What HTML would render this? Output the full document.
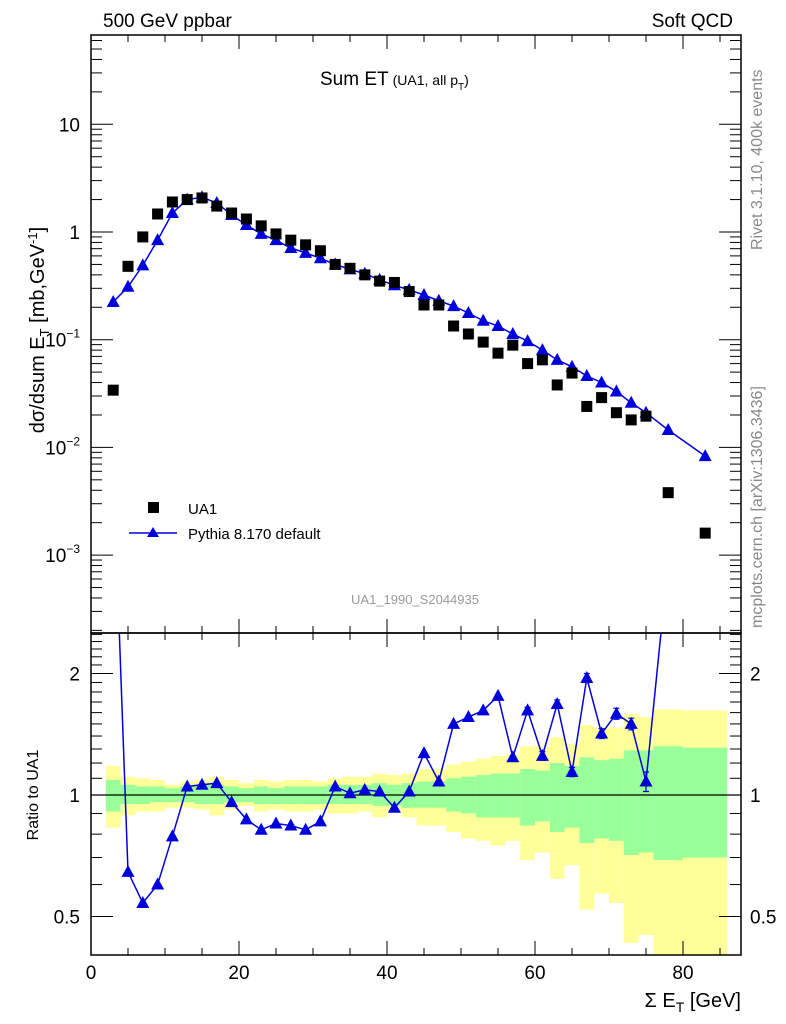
<!DOCTYPE html>
<html><head><meta charset="utf-8">
<style>
body{margin:0;background:#fff;}
svg{display:block;font-family:"Liberation Sans",sans-serif;}
</style></head>
<body>
<svg id="c" width="786" height="1024" viewBox="0 0 786 1024" xmlns="http://www.w3.org/2000/svg">
<g id="bands"></g>
<g id="marks"></g>
<g id="axes"></g>
<text x="103" y="27" font-size="19">500 GeV ppbar</text>
<text x="733" y="27" font-size="19" text-anchor="end">Soft QCD</text>
<text x="320" y="85" font-size="19">Sum ET<tspan font-size="14" dx="4">(UA1, all p</tspan><tspan font-size="10" dy="5">T</tspan><tspan font-size="14" dy="-5">)</tspan></text>
<text x="415" y="604" font-size="13" fill="#999" text-anchor="middle">UA1_1990_S2044935</text>
<text transform="translate(762,250) rotate(-90)" font-size="16" fill="#888">Rivet 3.1.10,  400k events</text>
<text transform="translate(762,628) rotate(-90)" font-size="16" fill="#888">mcplots.cern.ch [arXiv:1306.3436]</text>
<text transform="translate(44,330) rotate(-90)" font-size="20" text-anchor="middle">dσ/dsum E<tspan font-size="13" dy="5">T</tspan><tspan dy="-5"> [mb,GeV</tspan><tspan font-size="13" dy="-7">-1</tspan><tspan dy="7">]</tspan></text>
<text transform="translate(38,795) rotate(-90)" font-size="16" text-anchor="middle">Ratio to UA1</text>
<text x="741" y="1007" font-size="20" text-anchor="end">Σ E<tspan font-size="14" dy="5">T</tspan><tspan dy="-5"> [GeV]</tspan></text>
<g>
<rect x="148" y="502" width="11" height="11" fill="#000"/>
<text x="188" y="514" font-size="15">UA1</text>
<line x1="129" y1="533" x2="177" y2="533" stroke="#0000dd" stroke-width="1.5"/>
<polygon points="153,527 147,537 159,537" fill="#0000dd"/>
<text x="188" y="539" font-size="15">Pythia 8.170 default</text>
</g>
</svg>
<script>
const ua1X=[3,5,7,9,11,13,15,17,19,21,23,25,27,29,31,33,35,37,39,41,43,45,47,49,51,53,55,57,59,61,63,65,67,69,71,73,75,78,83];
const ua1Y=[0.034,0.48,0.9,1.47,1.9,2.0,2.07,1.74,1.5,1.32,1.14,0.96,0.84,0.76,0.67,0.5,0.46,0.4,0.35,0.34,0.28,0.21,0.21,0.134,0.113,0.095,0.075,0.089,0.06,0.065,0.038,0.049,0.024,0.029,0.021,0.018,0.0195,0.0038,0.0016];
const pyX=[3,5,7,9,11,13,15,17,19,21,23,25,27,29,31,33,35,37,39,41,43,45,47,49,51,53,55,57,59,61,63,65,67,69,71,73,75,78,83];
const pyY=[0.224,0.31,0.49,0.84,1.5,2.0,2.1,1.86,1.44,1.16,0.96,0.84,0.71,0.64,0.57,0.5,0.45,0.41,0.36,0.32,0.29,0.26,0.23,0.205,0.177,0.15,0.134,0.113,0.097,0.08,0.065,0.056,0.046,0.04,0.033,0.026,0.021,0.0145,0.0083];
const ratioX=[3,5,7,9,11,13,15,17,19,21,23,25,27,29,31,33,35,37,39,41,43,45,47,49,51,53,55,57,59,61,63,65,67,69,71,73,75,78];
const ratioY=[6.6,0.645,0.54,0.6,0.79,1.05,1.06,1.07,0.96,0.87,0.82,0.85,0.84,0.82,0.86,1.05,1.01,1.03,1.02,0.93,1.02,1.27,1.08,1.5,1.56,1.62,1.76,1.24,1.62,1.25,1.68,1.14,1.95,1.42,1.59,1.5,1.08,3.8];
const ratioErr=[0,0,0,0,0,0,0,0,0,0,0,0,0,0,0,0,0,0,0,0,0,0,0,0,0,0,0,0,0.03,0.03,0.04,0.03,0.05,0.04,0.05,0.05,0.06,0];
const binLo=[2,4,6,8,10,12,14,16,18,20,22,24,26,28,30,32,34,36,38,40,42,44,46,48,50,52,54,56,58,60,62,64,66,68,70,72,74,76,80];
const binHi=[4,6,8,10,12,14,16,18,20,22,24,26,28,30,32,34,36,38,40,42,44,46,48,50,52,54,56,58,60,62,64,66,68,70,72,74,76,80,86];
const greenHi=[1.09,1.06,1.05,1.05,1.04,1.05,1.06,1.06,1.05,1.04,1.05,1.04,1.05,1.05,1.05,1.06,1.06,1.06,1.07,1.06,1.07,1.08,1.08,1.10,1.11,1.12,1.13,1.13,1.16,1.15,1.20,1.18,1.24,1.22,1.23,1.29,1.29,1.32,1.31];
const greenLo=[0.91,0.95,0.95,0.96,0.96,0.96,0.95,0.95,0.96,0.96,0.95,0.95,0.95,0.95,0.95,0.95,0.95,0.95,0.94,0.94,0.93,0.93,0.93,0.91,0.90,0.88,0.88,0.88,0.84,0.86,0.81,0.83,0.76,0.78,0.77,0.71,0.72,0.69,0.70];
const yellowHi=[1.18,1.11,1.10,1.09,1.06,1.08,1.09,1.11,1.09,1.07,1.09,1.08,1.09,1.09,1.08,1.10,1.11,1.11,1.13,1.12,1.13,1.16,1.16,1.19,1.21,1.23,1.25,1.26,1.32,1.32,1.39,1.34,1.49,1.47,1.47,1.59,1.56,1.63,1.62];
const yellowLo=[0.83,0.89,0.91,0.91,0.93,0.93,0.92,0.89,0.92,0.94,0.91,0.92,0.91,0.91,0.92,0.90,0.90,0.91,0.88,0.91,0.88,0.84,0.84,0.81,0.78,0.77,0.75,0.77,0.69,0.72,0.62,0.67,0.52,0.57,0.54,0.43,0.45,0.3,0.3];
const xTicks=[0,20,40,60,80];
const mainTickExp=[-3,-2,-1,0,1];
const ratioTicks=[0.5,1,2];

const NS="http://www.w3.org/2000/svg";
const L=91,R=741,T=35,M=633,B=955;
function sx(v){return L+7.4*v;}
function sy(v){return 232-107.7*Math.log10(v);}
function sr(r){return 795-121.5*Math.log2(r);}
function mk(parent,tag,attrs){const e=document.createElementNS(NS,tag);for(const k in attrs)e.setAttribute(k,attrs[k]);parent.appendChild(e);return e;}
const bands=document.getElementById('bands'),marks=document.getElementById('marks'),axes=document.getElementById('axes');
function clipR(v){return Math.max(M,Math.min(B,v));}
for(let i=0;i<binLo.length;i++){
  const x1=sx(binLo[i]),x2=sx(binHi[i]);
  const y1=clipR(sr(yellowHi[i])),y2=clipR(sr(yellowLo[i]));
  const r=mk(bands,'rect',{x:x1,y:y1,width:x2-x1,height:y2-y1,fill:'#ffff99'});
  
  
}
for(let i=0;i<binLo.length;i++){
  const x1=sx(binLo[i]),x2=sx(binHi[i]);
  const y1=clipR(sr(greenHi[i])),y2=clipR(sr(greenLo[i]));
  const r=mk(bands,'rect',{x:x1,y:y1,width:x2-x1,height:y2-y1,fill:'#99ff99'});
  
  
}
const one=mk(marks,'line',{x1:L,x2:R,y1:sr(1),y2:sr(1),stroke:'#000','stroke-width':1.2});


const defs=mk(document.getElementById('c'),'defs',{});
const cp1=mk(defs,'clipPath',{id:'cm'});mk(cp1,'rect',{x:L,y:T,width:R-L,height:M-T});
const cp2=mk(defs,'clipPath',{id:'cr'});mk(cp2,'rect',{x:L,y:M,width:R-L,height:B-M});
const gm=mk(marks,'g',{'clip-path':'url(#cm)'});
const gr=mk(marks,'g',{'clip-path':'url(#cr)'});
let d='';pyX.forEach((x,i)=>{d+=(i?'L':'M')+sx(x)+' '+sy(pyY[i]);});
const pl=mk(gm,'path',{d:d,fill:'none',stroke:'#0000dd','stroke-width':1.5});


function tri(g,cx,cy,name){const p=mk(g,'polygon',{points:`${cx},${cy-7} ${cx-6.5},${cy+5} ${cx+6.5},${cy+5}`,fill:'#0000dd'});
  
  }
pyX.forEach((x,i)=>tri(gm,sx(x),sy(pyY[i]),'pythia-point'));
ua1X.forEach((x,i)=>{const r=mk(gm,'rect',{x:sx(x)-5.5,y:sy(ua1Y[i])-5.5,width:11,height:11,fill:'#000'});
  
  });
d='';ratioX.forEach((x,i)=>{d+=(i?'L':'M')+sx(x)+' '+sr(ratioY[i]);});
const rl=mk(gr,'path',{d:d,fill:'none',stroke:'#0000dd','stroke-width':1.5});


ratioX.forEach((x,i)=>{
  if(ratioErr[i]>0){const e=mk(gr,'path',{d:`M${sx(x)} ${sr(ratioY[i]+ratioErr[i])}L${sx(x)} ${sr(ratioY[i]-ratioErr[i])}M${sx(x)-3} ${sr(ratioY[i]+ratioErr[i])}h6M${sx(x)-3} ${sr(ratioY[i]-ratioErr[i])}h6`,stroke:'#0000dd','stroke-width':1.2,fill:'none'});
  
  }
  tri(gr,sx(x),sr(ratioY[i]),'ratio-point');
});
[[T,M],[M,B]].forEach(([a,b])=>{const f=mk(axes,'rect',{x:L,y:a,width:R-L,height:b-a,fill:'none',stroke:'#000','stroke-width':1.5});
  
  });
for(let v=0;v<=88;v+=5){const maj=v%20===0;const len=maj?14:7;
  [[T,1],[M,-1],[M,1],[B,-1]].forEach(([y,s])=>{mk(axes,'line',{x1:sx(v),x2:sx(v),y1:y,y2:y+s*len,stroke:'#000','stroke-width':1});});}
xTicks.forEach(v=>{const t=mk(axes,'text',{x:sx(v),y:979,'font-size':19,'text-anchor':'middle'});t.textContent=v;
  
  });
for(let e=-4;e<=1;e++){for(let m=1;m<10;m++){const v=m*Math.pow(10,e);const y=sy(v);if(y<T||y>M)continue;const len=m===1?22:11;
  mk(axes,'line',{x1:L,x2:L+len,y1:y,y2:y,stroke:'#000','stroke-width':1});mk(axes,'line',{x1:R,x2:R-len,y1:y,y2:y,stroke:'#000','stroke-width':1});}}
mainTickExp.forEach(e=>{const t=mk(axes,'text',{x:80,y:sy(Math.pow(10,e))+7,'font-size':19,'text-anchor':'end'});
  if(e===0)t.textContent='1';else if(e===1)t.textContent='10';else{t.innerHTML='10<tspan font-size="12" dy="-9">\u2212'+(-e)+'</tspan>';}
  
  });
const rmin=[0.4,0.5,0.6,0.7,0.8,0.9,1,1.1,1.2,1.3,1.4,1.5,1.6,1.7,1.8,1.9,2,2.1,2.2,2.3,2.4,2.5];
rmin.forEach(v=>{const y=sr(v);if(y<M||y>B)return;const maj=ratioTicks.includes(v);const len=maj?22:11;
  mk(axes,'line',{x1:L,x2:L+len,y1:y,y2:y,stroke:'#000','stroke-width':1});mk(axes,'line',{x1:R,x2:R-len,y1:y,y2:y,stroke:'#000','stroke-width':1});});
ratioTicks.forEach(v=>{[[80,'end'],[750,'start']].forEach(([x,a])=>{const t=mk(axes,'text',{x:x,y:sr(v)+7,'font-size':19,'text-anchor':a});t.textContent=v;
  
  });});
</script>
</body></html>
